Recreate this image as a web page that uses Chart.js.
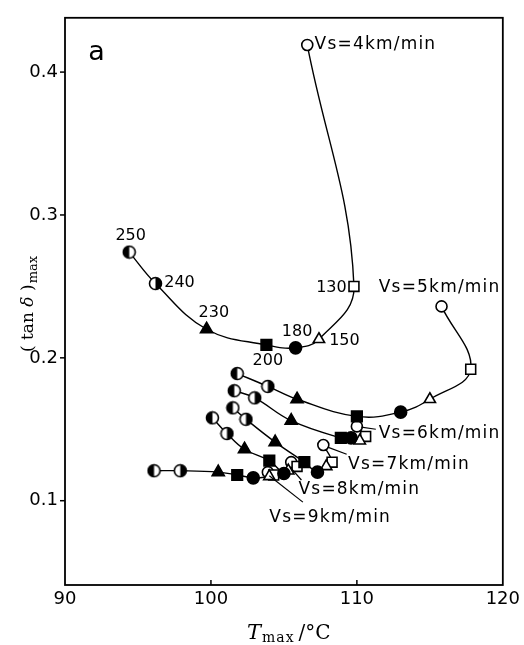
<!DOCTYPE html>
<html>
<head>
<meta charset="utf-8">
<script src="https://cdn.jsdelivr.net/npm/chart.js@4.4.1/dist/chart.umd.min.js"></script>
<style>
  html, body { margin: 0; padding: 0; background: #fff; }
  #wrap { width: 524px; height: 645px; }
</style>
</head>
<body>
<div id="wrap"><canvas id="chart"></canvas></div>
<script>
// condition labels, same order for every Vs curve (open circle first, half circles last)
const conditions = ['', '130', '150', '180', '200', '230', '240', '250'];

// Tmax (deg C) and (tan d)max for each take-up speed
const vs4T   = [106.6, 109.8, 107.4, 105.8, 103.8, 99.7, 96.2, 94.4];
const vs4Tan = [0.419, 0.250, 0.213, 0.207, 0.209, 0.220, 0.252, 0.274];
const vs5T   = [115.8, 117.8, 115.0, 113.0, 110.0, 105.9, 103.9, 101.8];
const vs5Tan = [0.236, 0.192, 0.171, 0.162, 0.159, 0.171, 0.180, 0.189];
const vs6T   = [110.0, 110.6, 110.2, 109.6, 108.9, 105.5, 103.0, 101.6];
const vs6Tan = [0.152, 0.145, 0.142, 0.144, 0.144, 0.156, 0.172, 0.177];
const vs7T   = [107.7, 108.3, 107.9, 107.3, 106.4, 104.4, 102.4, 101.5];
const vs7Tan = [0.139, 0.127, 0.124, 0.120, 0.127, 0.141, 0.157, 0.165];
const vs8T   = [105.5, 105.9, 105.3, 105.0, 104.0, 102.3, 101.1, 100.1];
const vs8Tan = [0.127, 0.124, 0.121, 0.119, 0.128, 0.136, 0.147, 0.158];
const vs9T   = [103.9, 104.3, 104.0, 102.9, 101.8, 100.5, 97.9, 96.1];
const vs9Tan = [0.120, 0.118, 0.117, 0.116, 0.118, 0.120, 0.121, 0.121];

const xTicks = [90, 100, 110, 120];
const yTicks = [0.1, 0.2, 0.3, 0.4];

// text placed in data coordinates
const notes = [
  { text: 'a', x: 91.6, y: 0.4137, align: 'left', big: true },
  { text: 'Vs=4km/min', x: 107.1, y: 0.419, align: 'left' },
  { text: '130', x: 109.3, y: 0.249, align: 'right' },
  { text: 'Vs=5km/min', x: 111.5, y: 0.249, align: 'left' },
  { text: '180', x: 105.9, y: 0.2185, align: 'center' },
  { text: '150', x: 108.1, y: 0.2116, align: 'left' },
  { text: '200', x: 103.9, y: 0.198, align: 'center' },
  { text: '230', x: 100.2, y: 0.2315, align: 'center' },
  { text: '240', x: 96.8, y: 0.2527, align: 'left' },
  { text: '250', x: 94.5, y: 0.2856, align: 'center' },
  { text: 'Vs=6km/min', x: 111.5, y: 0.147, align: 'left' },
  { text: 'Vs=7km/min', x: 109.4, y: 0.1253, align: 'left' },
  { text: 'Vs=8km/min', x: 106.0, y: 0.1075, align: 'left' },
  { text: 'Vs=9km/min', x: 104.0, y: 0.0884, align: 'left' }
];

// leader lines from labels to their curves
const leaders = [
  [[110.3, 0.1515], [111.3, 0.1500]],
  [[108.0, 0.1375], [109.3, 0.1325]],
  [[105.5, 0.1226], [106.2, 0.1145]],
  [[104.0, 0.1175], [106.3, 0.0990]]
];

function halfCircle(leftFilled) {
  const c = document.createElement('canvas');
  c.width = 15; c.height = 15;
  const g = c.getContext('2d');
  g.lineWidth = 1.6;
  g.fillStyle = '#fff';
  g.beginPath(); g.arc(7.5, 7.5, 6, 0, Math.PI * 2); g.fill();
  g.fillStyle = '#000';
  g.beginPath();
  if (leftFilled) g.arc(7.5, 7.5, 6, Math.PI / 2, Math.PI * 1.5);
  else g.arc(7.5, 7.5, 6, -Math.PI / 2, Math.PI / 2);
  g.closePath(); g.fill();
  g.beginPath(); g.arc(7.5, 7.5, 6, 0, Math.PI * 2); g.stroke();
  return c;
}
const half240 = halfCircle(false);
const half250 = halfCircle(true);

// marker for each condition index
const markers = [
  { style: 'circle', fill: '#fff', r: 5.5 },
  { style: 'rect', fill: '#fff', r: 7 },
  { style: 'triangle', fill: '#fff', r: 6.5 },
  { style: 'circle', fill: '#000', r: 6 },
  { style: 'rect', fill: '#000', r: 7.5 },
  { style: 'triangle', fill: '#000', r: 7 },
  { style: half240, fill: '#000', r: 6 },
  { style: half250, fill: '#000', r: 6 }
];

function series(ts, tans) {
  return {
    data: ts.map((t, i) => ({ x: t, y: tans[i] })),
    showLine: true,
    tension: 0.4,
    borderColor: '#000',
    borderWidth: 1.4,
    pointStyle: ctx => markers[ctx.dataIndex].style,
    pointRadius: ctx => markers[ctx.dataIndex].r,
    pointBackgroundColor: ctx => markers[ctx.dataIndex].fill,
    pointBorderColor: '#000',
    pointBorderWidth: 1.6
  };
}

const frame = {
  id: 'frame',
  afterDraw(chart) {
    const { ctx, chartArea: a, scales: { x, y } } = chart;
    ctx.save();
    ctx.strokeStyle = '#000';
    ctx.lineWidth = 1.8;
    ctx.strokeRect(a.left, a.top, a.right - a.left, a.bottom - a.top);
    ctx.lineWidth = 1.5;
    yTicks.forEach(v => {
      const py = y.getPixelForValue(v);
      ctx.beginPath(); ctx.moveTo(a.left - 5, py); ctx.lineTo(a.left, py); ctx.stroke();
    });
    xTicks.slice(1, -1).forEach(v => {
      const px = x.getPixelForValue(v);
      ctx.beginPath(); ctx.moveTo(px, a.bottom); ctx.lineTo(px, a.bottom - 5); ctx.stroke();
    });

    // leader lines
    ctx.lineWidth = 1.2;
    leaders.forEach(([p, q]) => {
      ctx.beginPath();
      ctx.moveTo(x.getPixelForValue(p[0]), y.getPixelForValue(p[1]));
      ctx.lineTo(x.getPixelForValue(q[0]), y.getPixelForValue(q[1]));
      ctx.stroke();
    });

    // labels
    ctx.fillStyle = '#000';
    ctx.textBaseline = 'middle';
    notes.forEach(n => {
      const vs = n.text.startsWith('Vs');
      ctx.font = n.big ? '27px "DejaVu Sans"' : (vs ? '17px "DejaVu Sans"' : '16px "DejaVu Sans"');
      ctx.letterSpacing = vs ? '1.2px' : '0px';
      ctx.textAlign = n.align;
      ctx.fillText(n.text, x.getPixelForValue(n.x), y.getPixelForValue(n.y));
    });
    ctx.letterSpacing = '0px';

    // axis titles
    ctx.textAlign = 'left';
    ctx.textBaseline = 'alphabetic';
    let cx = 247, by = 639;
    ctx.font = 'italic 21px "DejaVu Serif"';
    ctx.fillText('T', cx, by);
    cx += ctx.measureText('T').width + 1;
    ctx.font = '14px "DejaVu Serif"';
    ctx.letterSpacing = '1px';
    ctx.fillText('max', cx, by + 3);
    cx += ctx.measureText('max').width + 4;
    ctx.letterSpacing = '0px';
    ctx.font = '20px "DejaVu Serif"';
    ctx.fillText('/°C', cx, by);

    ctx.translate(33, 352);
    ctx.rotate(-Math.PI / 2);
    ctx.font = '17px "DejaVu Serif"';
    ctx.fillText('( tan ', 0, 0);
    let w = ctx.measureText('( tan ').width;
    ctx.font = 'italic 17px "DejaVu Serif"';
    ctx.fillText('δ', w, 0);
    w += ctx.measureText('δ').width;
    ctx.font = '17px "DejaVu Serif"';
    ctx.fillText(' )', w, 0);
    w += ctx.measureText(' )').width;
    ctx.font = '13px "DejaVu Serif"';
    ctx.fillText('max', w + 1, 4);
    ctx.restore();
  }
};

new Chart(document.getElementById('chart'), {
  type: 'scatter',
  data: {
    datasets: [
      series(vs4T, vs4Tan), series(vs5T, vs5Tan), series(vs6T, vs6Tan),
      series(vs7T, vs7Tan), series(vs8T, vs8Tan), series(vs9T, vs9Tan)
    ]
  },
  options: {
    responsive: true,
    maintainAspectRatio: false,
    animation: false,
    layout: { padding: { top: 5, right: 19, left: 0, bottom: 0 } },
    plugins: { legend: { display: false }, tooltip: { enabled: false } },
    scales: {
      x: {
        type: 'linear', min: 90, max: 120,
        grid: { display: false, drawTicks: false },
        border: { display: false },
        afterBuildTicks: s => { s.ticks = xTicks.map(v => ({ value: v })); },
        afterFit: s => { s.height = 60; },
        ticks: { color: '#000', padding: 4, font: { family: 'DejaVu Sans', size: 18 } }
      },
      y: {
        type: 'linear', min: 0.041, max: 0.438,
        grid: { display: false, drawTicks: false },
        border: { display: false },
        afterBuildTicks: s => { s.ticks = yTicks.map(v => ({ value: v })); },
        afterFit: s => { s.width = 65; },
        ticks: { color: '#000', padding: 7, font: { family: 'DejaVu Sans', size: 18 },
                 callback: v => v.toFixed(1) }
      }
    }
  },
  plugins: [frame]
});
</script>
</body>
</html>
